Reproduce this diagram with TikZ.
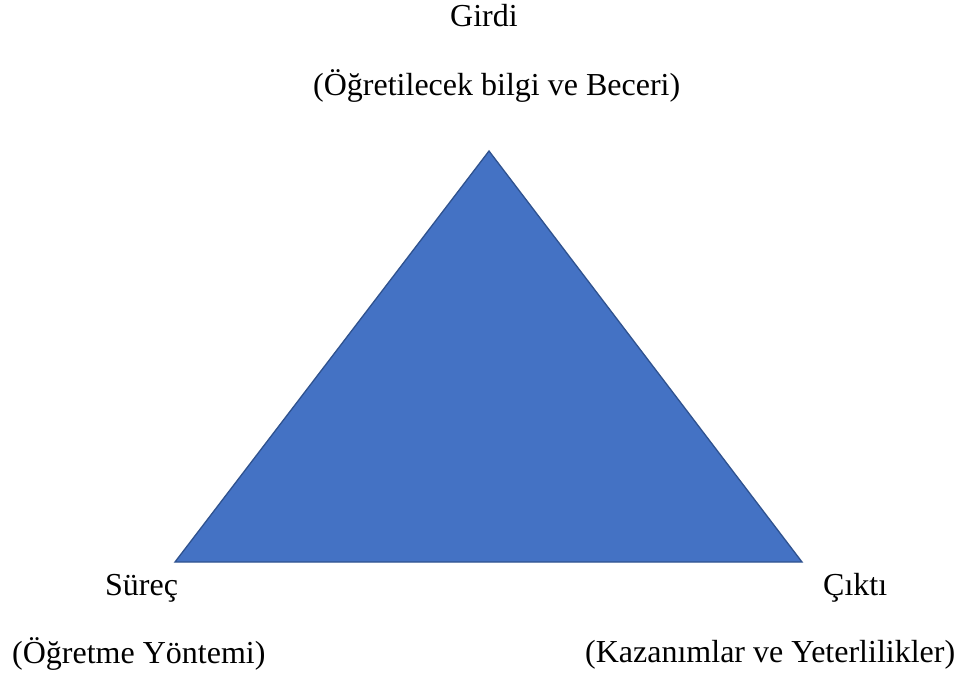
\documentclass[tikz,border=0pt]{standalone}
\usepackage{fontspec}
\setmainfont{Liberation Serif}
\definecolor{trifill}{HTML}{4472C4}
\definecolor{triline}{HTML}{2F528F}
\begin{document}
\begin{tikzpicture}[x=1pt,y=-1pt,
  lbl/.style={anchor=base west,inner sep=0pt,font=\fontsize{32}{38}\selectfont,text=black},
  tri/.style={fill=trifill,draw=triline,line width=1.3pt,line join=miter}]
\useasboundingbox (0,0) rectangle (958,680);
\coordinate (apex) at (489,151);
\coordinate (bl) at (175,562);
\coordinate (br) at (802,562);
\draw[tri] (apex) -- (bl) -- (br) -- cycle;
\node[lbl] (girdi) at (450,26) {Girdi};
\node[lbl] (girdiAc) at (313,95) {(Öğretilecek bilgi ve Beceri)};
\node[lbl] (surec) at (105,595) {Süreç};
\node[lbl] (surecAc) at (12,663) {(Öğretme Yöntemi)};
\node[lbl] (cikti) at (823,595) {Çıktı};
\node[lbl] (ciktiAc) at (585,662) {(Kazanımlar ve Yeterlilikler)};
\end{tikzpicture}
\end{document}
